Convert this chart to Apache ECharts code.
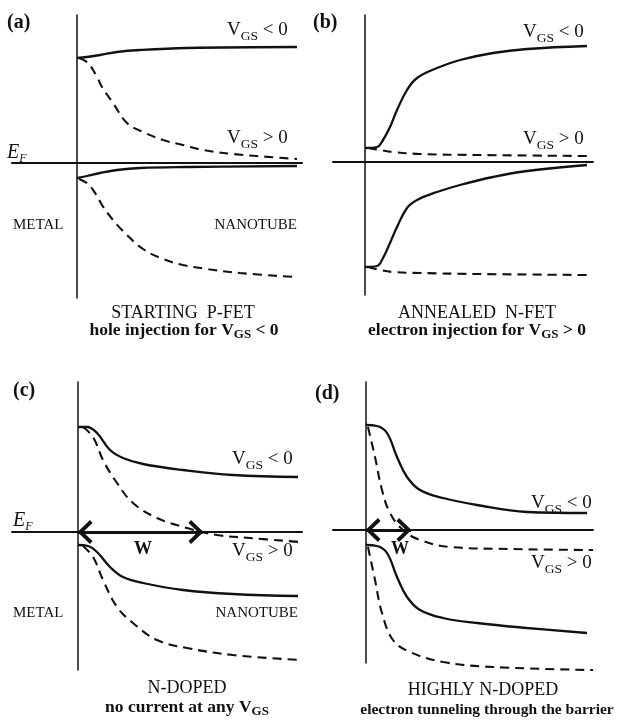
<!DOCTYPE html>
<html><head><meta charset="utf-8">
<script src="https://cdn.jsdelivr.net/npm/echarts@6/dist/echarts.min.js"></script>
<style>html,body{margin:0;padding:0;background:#fff}#c{width:629px;height:725px}</style>
</head><body><div id="c"></div><script>
// ---- data: [distance from metal interface, energy relative to E_F] (arbitrary units)
// panel (a) STARTING P-FET
const aCondSolid  = [[0,105],[10,106],[23,108],[40,111],[63,113],[110,115],[220,116]];
const aCondDashed = [[2,105],[11,100],[20,86],[25,76],[36,60],[50,40],[66,31],[86,23],[106,18],[126,13],[156,9],[220,4]];
const aValSolid   = [[0,-15],[10,-13],[23,-10],[40,-7],[63,-5],[110,-4],[220,-3]];
const aValDashed  = [[2,-16],[11,-21],[20,-33],[25,-42],[36,-57],[50,-72],[66,-86],[86,-96],[106,-102],[130,-106],[163,-110],[218,-114]];
// panel (b) ANNEALED N-FET
const bCondSolid  = [[0,14],[12,15],[18,22],[25,35],[32,52],[42,72],[52,84],[72,94],[95,102],[128,109],[162,113],[222,116]];
const bCondDashed = [[3,14],[15,12],[28,10],[55,8],[112,7],[222,6]];
const bValSolid   = [[0,-105],[12,-104],[18,-96],[25,-81],[32,-65],[42,-46],[52,-38],[72,-30],[95,-23],[128,-15],[162,-9],[222,-3]];
const bValDashed  = [[3,-105],[15,-108],[28,-110],[55,-111],[112,-112],[222,-113]];
// panel (c) N-DOPED
const cCondSolid  = [[0,105],[9,105],[19,99],[32,82],[45,74],[65,68],[105,62],[155,57],[220,55]];
const cCondDashed = [[5,105],[15,95],[25,72],[39,49],[55,29],[79,14],[109,4],[139,-3],[172,-6],[222,-10]];
const cValSolid   = [[0,-13],[10,-14],[19,-20],[32,-35],[45,-45],[65,-51],[105,-58],[155,-62],[220,-64]];
const cValDashed  = [[5,-14],[15,-25],[25,-48],[39,-75],[55,-91],[79,-108],[109,-116],[155,-123],[222,-128]];
const cDepletionW = 125;
// panel (d) HIGHLY N-DOPED
const dCondSolid  = [[0,105],[11,104],[21,97],[31,73],[41,53],[54,40],[77,32],[111,25],[161,18],[221,17]];
const dCondDashed = [[2,103],[9,73],[16,40],[24,17],[37,0],[54,-10],[84,-17],[144,-19],[227,-20]];
const dValSolid   = [[0,-15],[11,-16],[21,-23],[31,-47],[41,-67],[54,-80],[77,-88],[111,-93],[161,-98],[221,-103]];
const dValDashed  = [[2,-17],[9,-50],[16,-83],[27,-110],[44,-122],[77,-132],[127,-137],[227,-140]];
const dDepletionW = 45;

// axis ranges per panel
const xRanges = [[-65,225],[-32,228],[-66,224],[-33,227]];
const yRanges = [[-135,148],[-133,147],[-138,150],[-133,148]];

const INK = '#111';
const SERIF = '"Liberation Serif", "DejaVu Serif", serif';

const grids = [
  {left:12,  top:15,  width:290, height:283},
  {left:333, top:15,  width:260, height:280},
  {left:12,  top:382, width:290, height:288},
  {left:333, top:382, width:260, height:281}
];

function axis(i, r, w){
  return {gridIndex:i, type:'value', min:r[0], max:r[1],
    axisLine:{show:true, onZero:true, lineStyle:{color:INK, width:w}},
    axisTick:{show:false}, axisLabel:{show:false}, splitLine:{show:false}};
}

function curve(gi, data, dashed){
  return {type:'line', xAxisIndex:gi, yAxisIndex:gi, data:data, symbol:'none',
    smooth:0.4, clip:false, silent:true,
    lineStyle:{color:INK, width:dashed?2.1:2.3, type:dashed?[9,6]:'solid'}};
}

const chev = 'path://M0,10 L10,0 L20,10 L17.5,12 L10,4.5 L2.5,12 Z';
function wArrow(gi, w){
  return {type:'line', xAxisIndex:gi, yAxisIndex:gi, data:[], symbol:'none',
    markLine:{silent:true, animation:false, symbol:[chev,chev], symbolSize:[24,15], symbolOffset:[[0,7],[0,7]],
      lineStyle:{color:INK, width:3.2, type:'solid'}, label:{show:false},
      data:[[{coord:[0,0]},{coord:[w,0]}]]}};
}

const series = [
  curve(0,aCondSolid,false), curve(0,aCondDashed,true), curve(0,aValSolid,false), curve(0,aValDashed,true),
  curve(1,bCondSolid,false), curve(1,bCondDashed,true), curve(1,bValSolid,false), curve(1,bValDashed,true),
  curve(2,cCondSolid,false), curve(2,cCondDashed,true), curve(2,cValSolid,false), curve(2,cValDashed,true),
  curve(3,dCondSolid,false), curve(3,dCondDashed,true), curve(3,dValSolid,false), curve(3,dValDashed,true),
  wArrow(2,cDepletionW), wArrow(3,dDepletionW)
];

// ---- text
const vgsRich = {
  v:{fontFamily:SERIF, fontSize:19, verticalAlign:'top', color:INK, fill:INK},
  s:{fontFamily:SERIF, fontSize:13.5, verticalAlign:'top', padding:[8,0,0,0], color:INK, fill:INK}
};
const subRich = {
  b:{fontFamily:SERIF, fontSize:17.5, fontWeight:'bold', verticalAlign:'top', color:INK, fill:INK},
  s:{fontFamily:SERIF, fontSize:13, fontWeight:'bold', verticalAlign:'top', padding:[7,0,0,0], color:INK, fill:INK}
};
const efRich = {
  e:{fontFamily:SERIF, fontSize:20, fontStyle:'italic', verticalAlign:'top', color:INK, fill:INK},
  f:{fontFamily:SERIF, fontSize:12, fontStyle:'italic', verticalAlign:'top', padding:[10,0,0,0], color:INK, fill:INK}
};

function txt(x, y, text, font, align){
  return {type:'text', x:x, y:y, silent:true,
    style:{text:text, font:font, fill:INK, textAlign:align||'left', textVerticalAlign:'middle'}};
}
function rich(x, y, text, r, align){
  return {type:'text', x:x, y:y, silent:true,
    style:{text:text, rich:r, fill:INK, textAlign:align||'left', textVerticalAlign:'top'}};
}
const vgs = s => '{v|V}{s|GS}{v| ' + s + ' 0}';

const graphic = [
  txt(7, 23, '(a)', 'bold 20px ' + SERIF),
  txt(313, 23, '(b)', 'bold 20px ' + SERIF),
  txt(13, 391, '(c)', 'bold 20px ' + SERIF),
  txt(315, 394, '(d)', 'bold 20px ' + SERIF),
  rich(227, 21, vgs('<'), vgsRich), rich(227, 129, vgs('>'), vgsRich),
  rich(523, 23, vgs('<'), vgsRich), rich(523, 130, vgs('>'), vgsRich),
  rich(232, 450, vgs('<'), vgsRich), rich(232, 542, vgs('>'), vgsRich),
  rich(531, 494, vgs('<'), vgsRich), rich(531, 554, vgs('>'), vgsRich),
  rich(7, 143, '{e|E}{f|F}', efRich), rich(13, 511, '{e|E}{f|F}', efRich),
  txt(13, 225, 'METAL', '15px ' + SERIF), txt(297, 225, 'NANOTUBE', '15px ' + SERIF, 'right'),
  txt(13, 613, 'METAL', '15px ' + SERIF), txt(298, 613, 'NANOTUBE', '15px ' + SERIF, 'right'),
  txt(143, 549, 'W', 'bold 18px ' + SERIF, 'center'),
  txt(400, 549, 'W', 'bold 18px ' + SERIF, 'center'),
  txt(183, 313, 'STARTING  P-FET', '18px ' + SERIF, 'center'),
  rich(184, 321, '{b|hole injection for V}{s|GS}{b| < 0}', subRich, 'center'),
  txt(477, 313, 'ANNEALED  N-FET', '18px ' + SERIF, 'center'),
  rich(477, 321, '{b|electron injection for V}{s|GS}{b| > 0}', subRich, 'center'),
  txt(187, 688, 'N-DOPED', '18px ' + SERIF, 'center'),
  rich(187, 698, '{b|no current at any V}{s|GS}', subRich, 'center'),
  txt(483, 690, 'HIGHLY N-DOPED', '18px ' + SERIF, 'center'),
  txt(487, 710, 'electron tunneling through the barrier', 'bold 15.5px ' + SERIF, 'center')
];

const chart = echarts.init(document.getElementById('c'), null, {renderer:'canvas'});
chart.setOption({
  backgroundColor:'#fff',
  animation:false,
  grid:grids,
  xAxis:xRanges.map((r,i)=>axis(i,r,2)),
  yAxis:yRanges.map((r,i)=>axis(i,r,1.5)),
  series:series,
  graphic:graphic
});
</script></body></html>
